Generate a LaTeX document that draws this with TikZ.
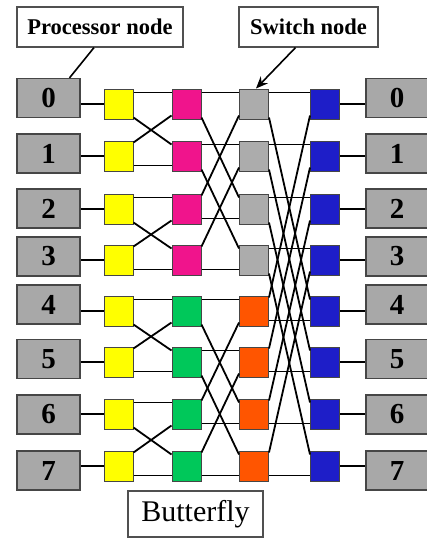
\documentclass[tikz,border=0pt]{standalone}
\usepackage{fontspec}
\setmainfont{Liberation Serif}
\usetikzlibrary{calc,arrows.meta}
\definecolor{pgray}{RGB}{168,168,168}
\definecolor{sgray}{RGB}{172,172,172}
\definecolor{bordc}{RGB}{70,70,70}
\definecolor{lblc}{RGB}{80,80,80}
\definecolor{cyel}{RGB}{255,255,0}
\definecolor{cmag}{RGB}{240,20,140}
\definecolor{cgrn}{RGB}{0,200,90}
\definecolor{corg}{RGB}{255,85,0}
\definecolor{cblu}{RGB}{30,30,200}
\newcommand{\bfpair}[4]{%
  \draw[wire] ($(#1.north east)+(0pt,-4pt)$) -- ($(#3.north west)+(0pt,-4pt)$);
  \draw[wire] ($(#1.south east)+(0pt,2pt)$) -- ($(#4.north west)+(0pt,-4pt)$);
  \draw[wire] ($(#2.north east)+(0pt,-2pt)$) -- ($(#3.south west)+(0pt,4pt)$);
  \draw[wire] ($(#2.south east)+(0pt,6pt)$) -- ($(#4.south west)+(0pt,6pt)$);
}
\begin{document}
\begin{tikzpicture}[x=1pt,y=-1pt,
  proc/.style={draw=bordc, line width=1.2pt, fill=pgray, minimum width=63pt,
    minimum height=39pt, inner sep=0pt, font=\fontsize{29}{30}\selectfont\bfseries},
  sw/.style={draw=bordc, line width=1pt, minimum width=29pt, minimum height=30pt,
    inner sep=0pt, fill=#1},
  lbl/.style={draw=lblc, line width=1.2pt, fill=white, inner sep=0pt},
  wire/.style={line width=1.8pt, black}]
\useasboundingbox (0,0) rectangle (427,538);
\clip (0,0) rectangle (427,538);
\foreach \i/\py/\sy/\mc/\sc in {0/98/104/cmag/sgray, 1/153.5/156/cmag/sgray,
    2/208.5/209/cmag/sgray, 3/256.5/260/cmag/sgray, 4/304.5/311/cgrn/corg,
    5/359/362/cgrn/corg, 6/414.5/414/cgrn/corg, 7/470.5/466/cgrn/corg}{
  \node[proc] (p\i) at (48.5,\py) {\i};
  \node[proc, minimum width=64pt] (r\i) at (398,\py) {\hspace*{-2pt}\i};
  \node[sw=cyel] (y\i) at (118.5,\sy) {};
  \node[sw=\mc] (m\i) at (186.5,\sy) {};
  \node[sw=\sc] (s\i) at (254,\sy) {};
  \node[sw=cblu] (b\i) at (325,\sy) {};
  \draw[wire] (y\i.west) -- (y\i.west -| p\i.east);
  \draw[wire] (b\i.east) -- (b\i.east -| r\i.west);
}
% stage 1
\bfpair{y0}{y1}{m0}{m1}
\bfpair{y2}{y3}{m2}{m3}
\bfpair{y4}{y5}{m4}{m5}
\bfpair{y6}{y7}{m6}{m7}
% stage 2
\bfpair{m0}{m2}{s0}{s2}
\bfpair{m1}{m3}{s1}{s3}
\bfpair{m4}{m6}{s4}{s6}
\bfpair{m5}{m7}{s5}{s7}
% stage 3
\bfpair{s0}{s4}{b0}{b4}
\bfpair{s1}{s5}{b1}{b5}
\bfpair{s2}{s6}{b2}{b6}
\bfpair{s3}{s7}{b3}{b7}
% labels
\node[lbl, minimum width=166pt, minimum height=40pt,
  font=\fontsize{22.5}{24}\selectfont\bfseries] (lp) at (100,27) {Processor node};
\node[lbl, minimum width=139pt, minimum height=40pt,
  font=\fontsize{22.5}{24}\selectfont\bfseries] (ls) at (308.5,27) {Switch node};
\node[lbl, minimum width=135pt, minimum height=46pt,
  font=\fontsize{30}{32}\selectfont] (lb) at (195.5,514) {Butterfly};
\draw[wire, line width=1.6pt] ($(lp.south)+(-6pt,0pt)$) -- ($(p0.north)+(21pt,0pt)$);
\draw[wire, line width=1.6pt, -{Stealth[length=12pt,width=10pt]}]
  ($(ls.south)+(-13pt,0pt)$) -- ($(s0.north)+(2pt,0pt)$);
\end{tikzpicture}
\end{document}
